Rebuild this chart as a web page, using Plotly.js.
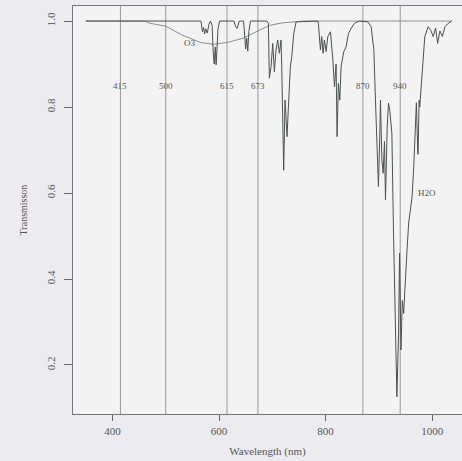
<!DOCTYPE html>
<html>
<head>
<meta charset="utf-8">
<script src="https://cdn.plot.ly/plotly-3.0.1.min.js"></script>
<style>
html,body{margin:0;padding:0;background:#ececf0;overflow:hidden;}
#chart{width:462px;height:461px;}
</style>
</head>
<body>
<div id="chart"></div>
<script>
// Main transmission curve (wavelength nm, transmission)
const wavelength = [350, 566, 569, 571, 573, 575, 578, 581, 584, 587, 589, 591, 593, 594.5, 596, 598, 601,
  628, 631, 634, 638, 646, 648, 650, 652, 654, 656, 659,
  690, 692.6, 694.5, 697.7, 700.8, 703.9, 707, 710.2, 713.3, 716.4, 717.7, 719.6, 721.4, 723.9, 727.7, 730.2, 733.9, 736.5, 740.3, 744.6,
  785, 786.5, 790.3, 792.8, 795.3, 797.8, 801, 804.2, 809.2, 813.7, 816.7, 819.7, 821.6, 824.1, 826.7, 829.1, 834.2, 838.5, 842.9, 848, 854.2, 863.6,
  879.3, 885.5, 890.6, 893.6, 896.8, 899.2, 901.8, 903, 905.6, 908, 910.5, 912.4, 915.6, 918, 920.7, 923.1, 924.4, 927.5, 930.7, 933.8, 937, 938.8, 941.5, 944, 946.5, 949.6, 952.8, 955.9, 959.1, 962.2, 965.4, 968.5, 970.4, 972.9, 973.6, 975.5, 976.7, 979.9, 983, 986.2, 992.5, 997.5, 1002, 1006.5, 1010.3, 1014.6, 1019.2, 1024.1, 1030.5, 1036.7];
const transmission = [1.0, 1.0, 0.975, 0.985, 0.97, 0.982, 0.972, 0.992, 1.0, 0.99, 0.93, 0.90, 0.94, 0.898, 0.93, 0.98, 1.0,
  1.0, 0.988, 0.983, 1.0, 1.0, 0.97, 0.935, 0.96, 0.93, 0.975, 1.0,
  1.0, 0.995, 0.867, 0.894, 0.948, 0.882, 0.933, 0.956, 0.925, 0.956, 0.894, 0.723, 0.653, 0.816, 0.731, 0.80, 0.894, 0.917, 0.971, 0.998,
  1.0, 0.995, 0.933, 0.964, 0.925, 0.956, 0.929, 0.964, 0.975, 0.909, 0.847, 0.90, 0.731, 0.855, 0.816, 0.894, 0.929, 0.94, 0.971, 0.983, 0.995, 1.0,
  0.998, 0.987, 0.933, 0.816, 0.708, 0.615, 0.74, 0.816, 0.677, 0.646, 0.72, 0.584, 0.75, 0.809, 0.79, 0.74, 0.739, 0.507, 0.274, 0.126, 0.274, 0.46, 0.235, 0.35, 0.32, 0.41, 0.467, 0.53, 0.56, 0.59, 0.66, 0.74, 0.81, 0.70, 0.69, 0.816, 0.80, 0.855, 0.917, 0.964, 0.987, 0.978, 0.964, 0.984, 0.948, 0.977, 0.964, 0.987, 0.995, 1.0];

// Ozone (Chappuis band) curve
const o3Wavelength = [350, 460, 470, 500, 530, 565, 590, 615, 645, 670, 695, 720, 760, 1036.7];
const o3Transmission = [1.0, 1.0, 0.995, 0.988, 0.968, 0.95, 0.946, 0.95, 0.96, 0.975, 0.99, 0.996, 1.0, 1.0];

// Marked wavelengths (vertical lines)
const markers = [415, 500, 615, 673, 870, 940];
const markerLabelY = 0.85;

const yTicks = [0.2, 0.4, 0.6, 0.8, 1.0];
const yTickText = ['0.2', '0.4', '0.6', '0.8', '1.0'];
const xTicks = [400, 600, 800, 1000];

const serif = 'Liberation Serif, Times New Roman, serif';

const traces = [
  {x: o3Wavelength, y: o3Transmission, mode: 'lines', line: {color: '#8a8f92', width: 1}, hoverinfo: 'skip'},
  {x: wavelength, y: transmission, mode: 'lines', line: {color: '#4b5152', width: 1}, hoverinfo: 'skip'}
];

const shapes = markers.map(m => ({type: 'line', xref: 'x', yref: 'paper', x0: m, x1: m, y0: 0, y1: 1,
  line: {color: '#9a9a9a', width: 1}, layer: 'below'}));

const annotations = markers.map(m => ({x: m, y: markerLabelY, xref: 'x', yref: 'y', text: String(m),
  showarrow: false, font: {family: serif, size: 9, color: '#555'}}));
annotations.push({x: 545, y: 0.948, xref: 'x', yref: 'y', text: 'O3', showarrow: false,
  font: {family: serif, size: 9, color: '#555'}});
annotations.push({x: 990, y: 0.60, xref: 'x', yref: 'y', text: 'H2O', showarrow: false,
  font: {family: serif, size: 9, color: '#555'}});

const layout = {
  width: 462, height: 461,
  margin: {l: 73, r: 0, t: 6, b: 47},
  paper_bgcolor: '#ececf0',
  plot_bgcolor: '#f3f3f3',
  showlegend: false,
  font: {family: serif, color: '#555'},
  xaxis: {range: [326, 1056], tickvals: xTicks, ticks: 'outside', ticklen: 6, tickcolor: '#666',
    showgrid: false, zeroline: false, showline: true, linecolor: '#777', linewidth: 1, mirror: true,
    ticklabelstandoff: 1,
    tickfont: {family: serif, size: 11, color: '#555'},
    title: {text: 'Wavelength (nm)', font: {family: serif, size: 11, color: '#555'}, standoff: 11}},
  yaxis: {range: [0.086, 1.035], tickvals: yTicks, ticktext: yTickText, ticks: 'outside', ticklen: 8, tickcolor: '#666',
    tickangle: -90, showgrid: false, zeroline: false, showline: true, linecolor: '#777', linewidth: 1,
    ticklabelstandoff: 5,
    tickfont: {family: serif, size: 11, color: '#555'},
    title: {text: 'Transmisson', font: {family: serif, size: 10, color: '#555'}, standoff: 15}},
  shapes: shapes,
  annotations: annotations
};

Plotly.newPlot('chart', traces, layout, {displayModeBar: false, staticPlot: true});
</script>
</body>
</html>
